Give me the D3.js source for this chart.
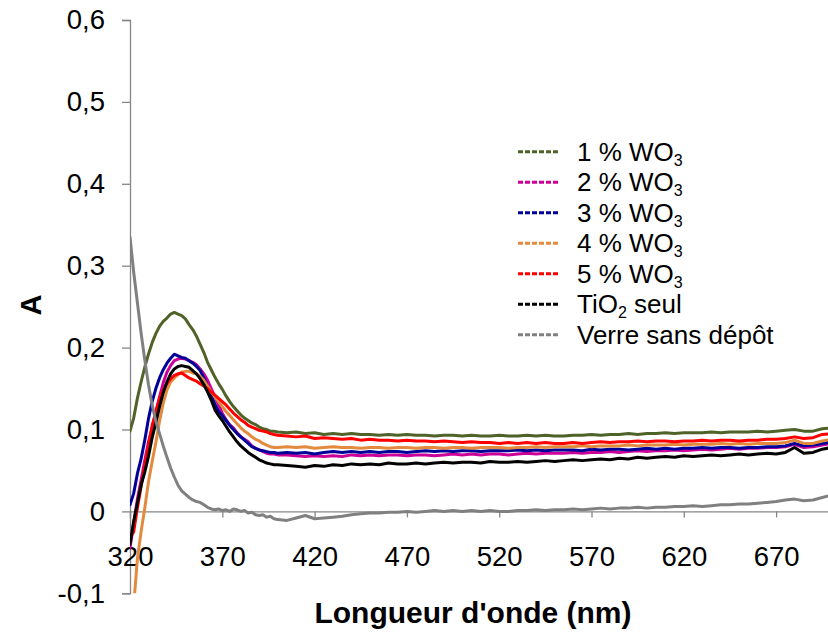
<!DOCTYPE html>
<html><head><meta charset="utf-8">
<script src="https://cdn.jsdelivr.net/npm/d3@7"></script>
<style>
html,body{margin:0;padding:0;background:#fff;}
svg text{font-family:"Liberation Sans",Arial,sans-serif;}
</style></head>
<body>
<svg id="chart" width="828" height="637"></svg>
<script>
const wavelengths = [320,322,324,326,328,330,332,334,336,338,340,342,344,346,348,350,352,354,356,358,360,362,364,366,368,370,372,374,376,378,380,382,384,386,388,390,392,394,396,398,400,
405,410,415,420,425,430,435,440,445,450,455,460,465,470,475,480,485,490,495,500,505,510,515,520,525,530,535,540,545,550,555,560,565,570,575,580,585,590,595,600,605,610,615,620,625,630,635,640,645,650,655,660,665,670,675,680,685,690,695,700];

const wo3_1 = [.098,.114,.138,.158,.176,.192,.206,.217,.226,.232,.236,.241,.243,.241,.239,.235,.228,.222,.214,.204,.194,.182,.173,.164,.156,.149,.141,.134,.128,.123,.118,.114,.111,.108,.106,.103,.101,.100,.098,.098,.097,
.096,.097,.095,.096,.094,.095,.094,.095,.094,.094,.093,.094,.093,.094,.093,.093,.092,.093,.093,.092,.093,.092,.092,.093,.092,.092,.093,.092,.093,.092,.092,.093,.093,.094,.093,.094,.094,.095,.094,.095,.095,.096,.095,.096,.096,.096,.097,.096,.097,.097,.097,.098,.097,.098,.099,.100,.098,.098,.101,.102];

const wo3_2 = [-.045,-.014,.015,.038,.062,.085,.102,.122,.140,.157,.170,.178,.184,.186,.187,.186,.184,.182,.179,.174,.168,.160,.150,.140,.130,.120,.112,.106,.102,.096,.091,.088,.085,.080,.077,.075,.073,.071,.070,.070,.069,
.069,.068,.067,.068,.067,.068,.067,.069,.068,.069,.068,.069,.069,.068,.069,.069,.068,.069,.070,.069,.070,.069,.070,.070,.069,.070,.071,.070,.071,.071,.071,.072,.071,.072,.072,.073,.072,.073,.074,.073,.074,.074,.075,.074,.075,.076,.075,.076,.077,.076,.077,.077,.078,.078,.079,.082,.078,.079,.081,.083];

const wo3_3 = [.008,.022,.046,.064,.087,.113,.134,.150,.163,.173,.181,.187,.192,.190,.188,.187,.184,.181,.177,.172,.163,.153,.141,.131,.122,.117,.111,.105,.100,.095,.091,.087,.083,.079,.077,.075,.074,.073,.072,.072,.071,
.072,.071,.072,.070,.072,.073,.072,.073,.072,.073,.072,.073,.073,.072,.073,.074,.073,.074,.073,.074,.074,.073,.074,.074,.074,.075,.074,.075,.074,.075,.075,.075,.074,.076,.075,.076,.076,.075,.076,.077,.076,.077,.076,.077,.077,.078,.077,.078,.078,.077,.078,.078,.079,.079,.080,.083,.080,.081,.083,.085];

const wo3_4 = [-.150,-.115,-.058,-.025,.004,.036,.061,.084,.110,.132,.148,.158,.163,.167,.170,.171,.171,.169,.168,.165,.160,.153,.146,.140,.134,.128,.122,.117,.112,.107,.102,.098,.095,.091,.088,.086,.083,.081,.079,.078,.078,
.079,.078,.079,.077,.078,.079,.078,.078,.077,.078,.078,.077,.078,.078,.077,.078,.078,.077,.078,.078,.077,.078,.078,.078,.077,.078,.078,.079,.078,.079,.079,.079,.080,.079,.080,.080,.080,.081,.080,.081,.081,.081,.082,.081,.082,.082,.082,.083,.082,.083,.082,.083,.083,.083,.084,.087,.083,.083,.086,.088];

const wo3_5 = [-.032,-.025,.004,.030,.055,.080,.105,.121,.138,.148,.156,.162,.166,.168,.169,.166,.163,.161,.159,.156,.153,.150,.146,.142,.138,.134,.130,.125,.120,.116,.112,.109,.105,.103,.101,.099,.098,.097,.095,.094,.093,
.092,.091,.092,.089,.090,.089,.088,.089,.087,.088,.087,.087,.086,.087,.086,.086,.085,.086,.085,.084,.085,.084,.084,.083,.084,.083,.084,.083,.084,.083,.083,.084,.083,.084,.085,.084,.085,.085,.086,.085,.086,.086,.085,.086,.086,.087,.086,.087,.087,.086,.087,.087,.088,.088,.089,.091,.089,.090,.094,.095];

const tio2 = [-.040,-.012,.010,.032,.048,.067,.090,.108,.128,.145,.158,.168,.174,.177,.178,.177,.176,.172,.168,.162,.155,.146,.136,.124,.117,.111,.104,.097,.091,.085,.080,.076,.072,.069,.066,.063,.061,.059,.058,.057,.057,
.056,.055,.054,.056,.055,.057,.056,.058,.057,.058,.057,.059,.058,.058,.059,.058,.059,.060,.059,.060,.060,.059,.061,.060,.060,.061,.060,.061,.062,.061,.062,.063,.062,.063,.064,.063,.065,.064,.066,.065,.066,.067,.066,.068,.067,.068,.069,.068,.069,.070,.069,.070,.071,.070,.072,.078,.071,.072,.076,.078];

const verre = [.335,.292,.255,.218,.185,.155,.130,.110,.095,.080,.066,.053,.042,.032,.025,.021,.017,.014,.012,.011,.008,.005,.003,.002,.003,.001,.002,.000,.003,.002,.000,.001,-.002,-.001,-.004,-.005,-.004,-.007,-.006,-.009,-.010,
-.011,-.008,-.005,-.009,-.008,-.007,-.006,-.004,-.003,-.002,-.002,-.001,-.001,.000,-.001,.000,.001,.000,.001,.000,.001,.000,.001,.000,.000,.001,.001,.002,.001,.002,.002,.003,.002,.003,.004,.003,.004,.004,.005,.004,.005,.005,.006,.006,.007,.006,.007,.008,.008,.009,.009,.010,.011,.012,.014,.015,.013,.014,.017,.020];

const seriesNames = ["1 % WO3","2 % WO3","3 % WO3","4 % WO3","5 % WO3","TiO2 seul","Verre sans dépôt"];
const seriesValues = [wo3_1, wo3_2, wo3_3, wo3_4, wo3_5, tio2, verre];
const seriesColors = ["#4F6228","#CC0099","#000099","#E48A3E","#FF0000","#000000","#808080"];
const xTicks = [320,370,420,470,520,570,620,670];
const yTicks = [-0.1,0,0.1,0.2,0.3,0.4,0.5,0.6];

const svg = d3.select("#chart");
const x = d3.scaleLinear().domain([320,700]).range([130,831.5]);
const y = d3.scaleLinear().domain([-0.1,0.6]).range([593.3,20]);
const axisColor = "#868686";
const fmt = v => v === 0 ? "0" : d3.format(".1f")(v).replace(".", ",").replace("−","-");

svg.append("defs").append("clipPath").attr("id","plot")
  .append("rect").attr("x",130).attr("y",20).attr("width",700).attr("height",573.3);

// Y axis
const yAxis = svg.append("g").attr("transform","translate(130,0)")
  .call(d3.axisLeft(y).tickValues(yTicks).tickSize(8).tickPadding(17).tickFormat(fmt));
yAxis.select(".domain").attr("stroke",axisColor).attr("stroke-width",1.3);
yAxis.selectAll(".tick line").attr("stroke",axisColor).attr("stroke-width",1.3);
yAxis.selectAll(".tick text").attr("font-size",27.5).attr("fill","#000")
  .attr("font-family","Liberation Sans, Arial, sans-serif");

// X axis at y=0
const xAxis = svg.append("g").attr("transform",`translate(0,${y(0)})`)
  .call(d3.axisBottom(x).tickValues(xTicks).tickSize(6).tickPadding(0).tickFormat(d3.format("d")));
xAxis.select(".domain").attr("stroke",axisColor).attr("stroke-width",1.3);
xAxis.selectAll(".tick line").attr("stroke",axisColor).attr("stroke-width",1.3);
xAxis.selectAll(".tick text").attr("font-size",27.5).attr("fill","#000")
  .attr("dy",null).attr("y",55)
  .attr("font-family","Liberation Sans, Arial, sans-serif");

// Series
const line = d3.line().x((d,i)=>x(wavelengths[i])).y(d=>y(d));
const plot = svg.append("g").attr("clip-path","url(#plot)");
seriesValues.forEach((vals,k)=>{
  plot.append("path").datum(vals)
    .attr("d",line).attr("fill","none")
    .attr("stroke",seriesColors[k]).attr("stroke-width",3)
    .attr("stroke-linejoin","round").attr("stroke-linecap","round");
});

// Axis titles
svg.append("text").attr("x",473).attr("y",623).attr("text-anchor","middle")
  .attr("font-size",30).attr("font-weight","bold").text("Longueur d'onde (nm)");
svg.append("text").attr("transform","translate(41,305) rotate(-90)").attr("text-anchor","middle")
  .attr("font-size",29).attr("font-weight","bold").text("A");

// Legend
const legend = svg.append("g");
seriesNames.forEach((name,k)=>{
  const ly = 151.7 + k*30.5;
  legend.append("line").attr("x1",518).attr("x2",560).attr("y1",ly).attr("y2",ly)
    .attr("stroke",seriesColors[k]).attr("stroke-width",3).attr("stroke-dasharray","5,2");
  const t = legend.append("text").attr("x",577).attr("y",ly+9).attr("font-size",26).attr("fill","#000");
  if (name.startsWith("TiO2")) {
    t.append("tspan").text("TiO");
    t.append("tspan").text("2").attr("font-size",16).attr("dy",5);
    t.append("tspan").text(" seul").attr("dy",-5);
  } else if (name.endsWith("WO3")) {
    t.append("tspan").text(name.slice(0,-1));
    t.append("tspan").text("3").attr("font-size",16).attr("dy",5);
  } else {
    t.text(name);
  }
});
</script>
</body></html>
